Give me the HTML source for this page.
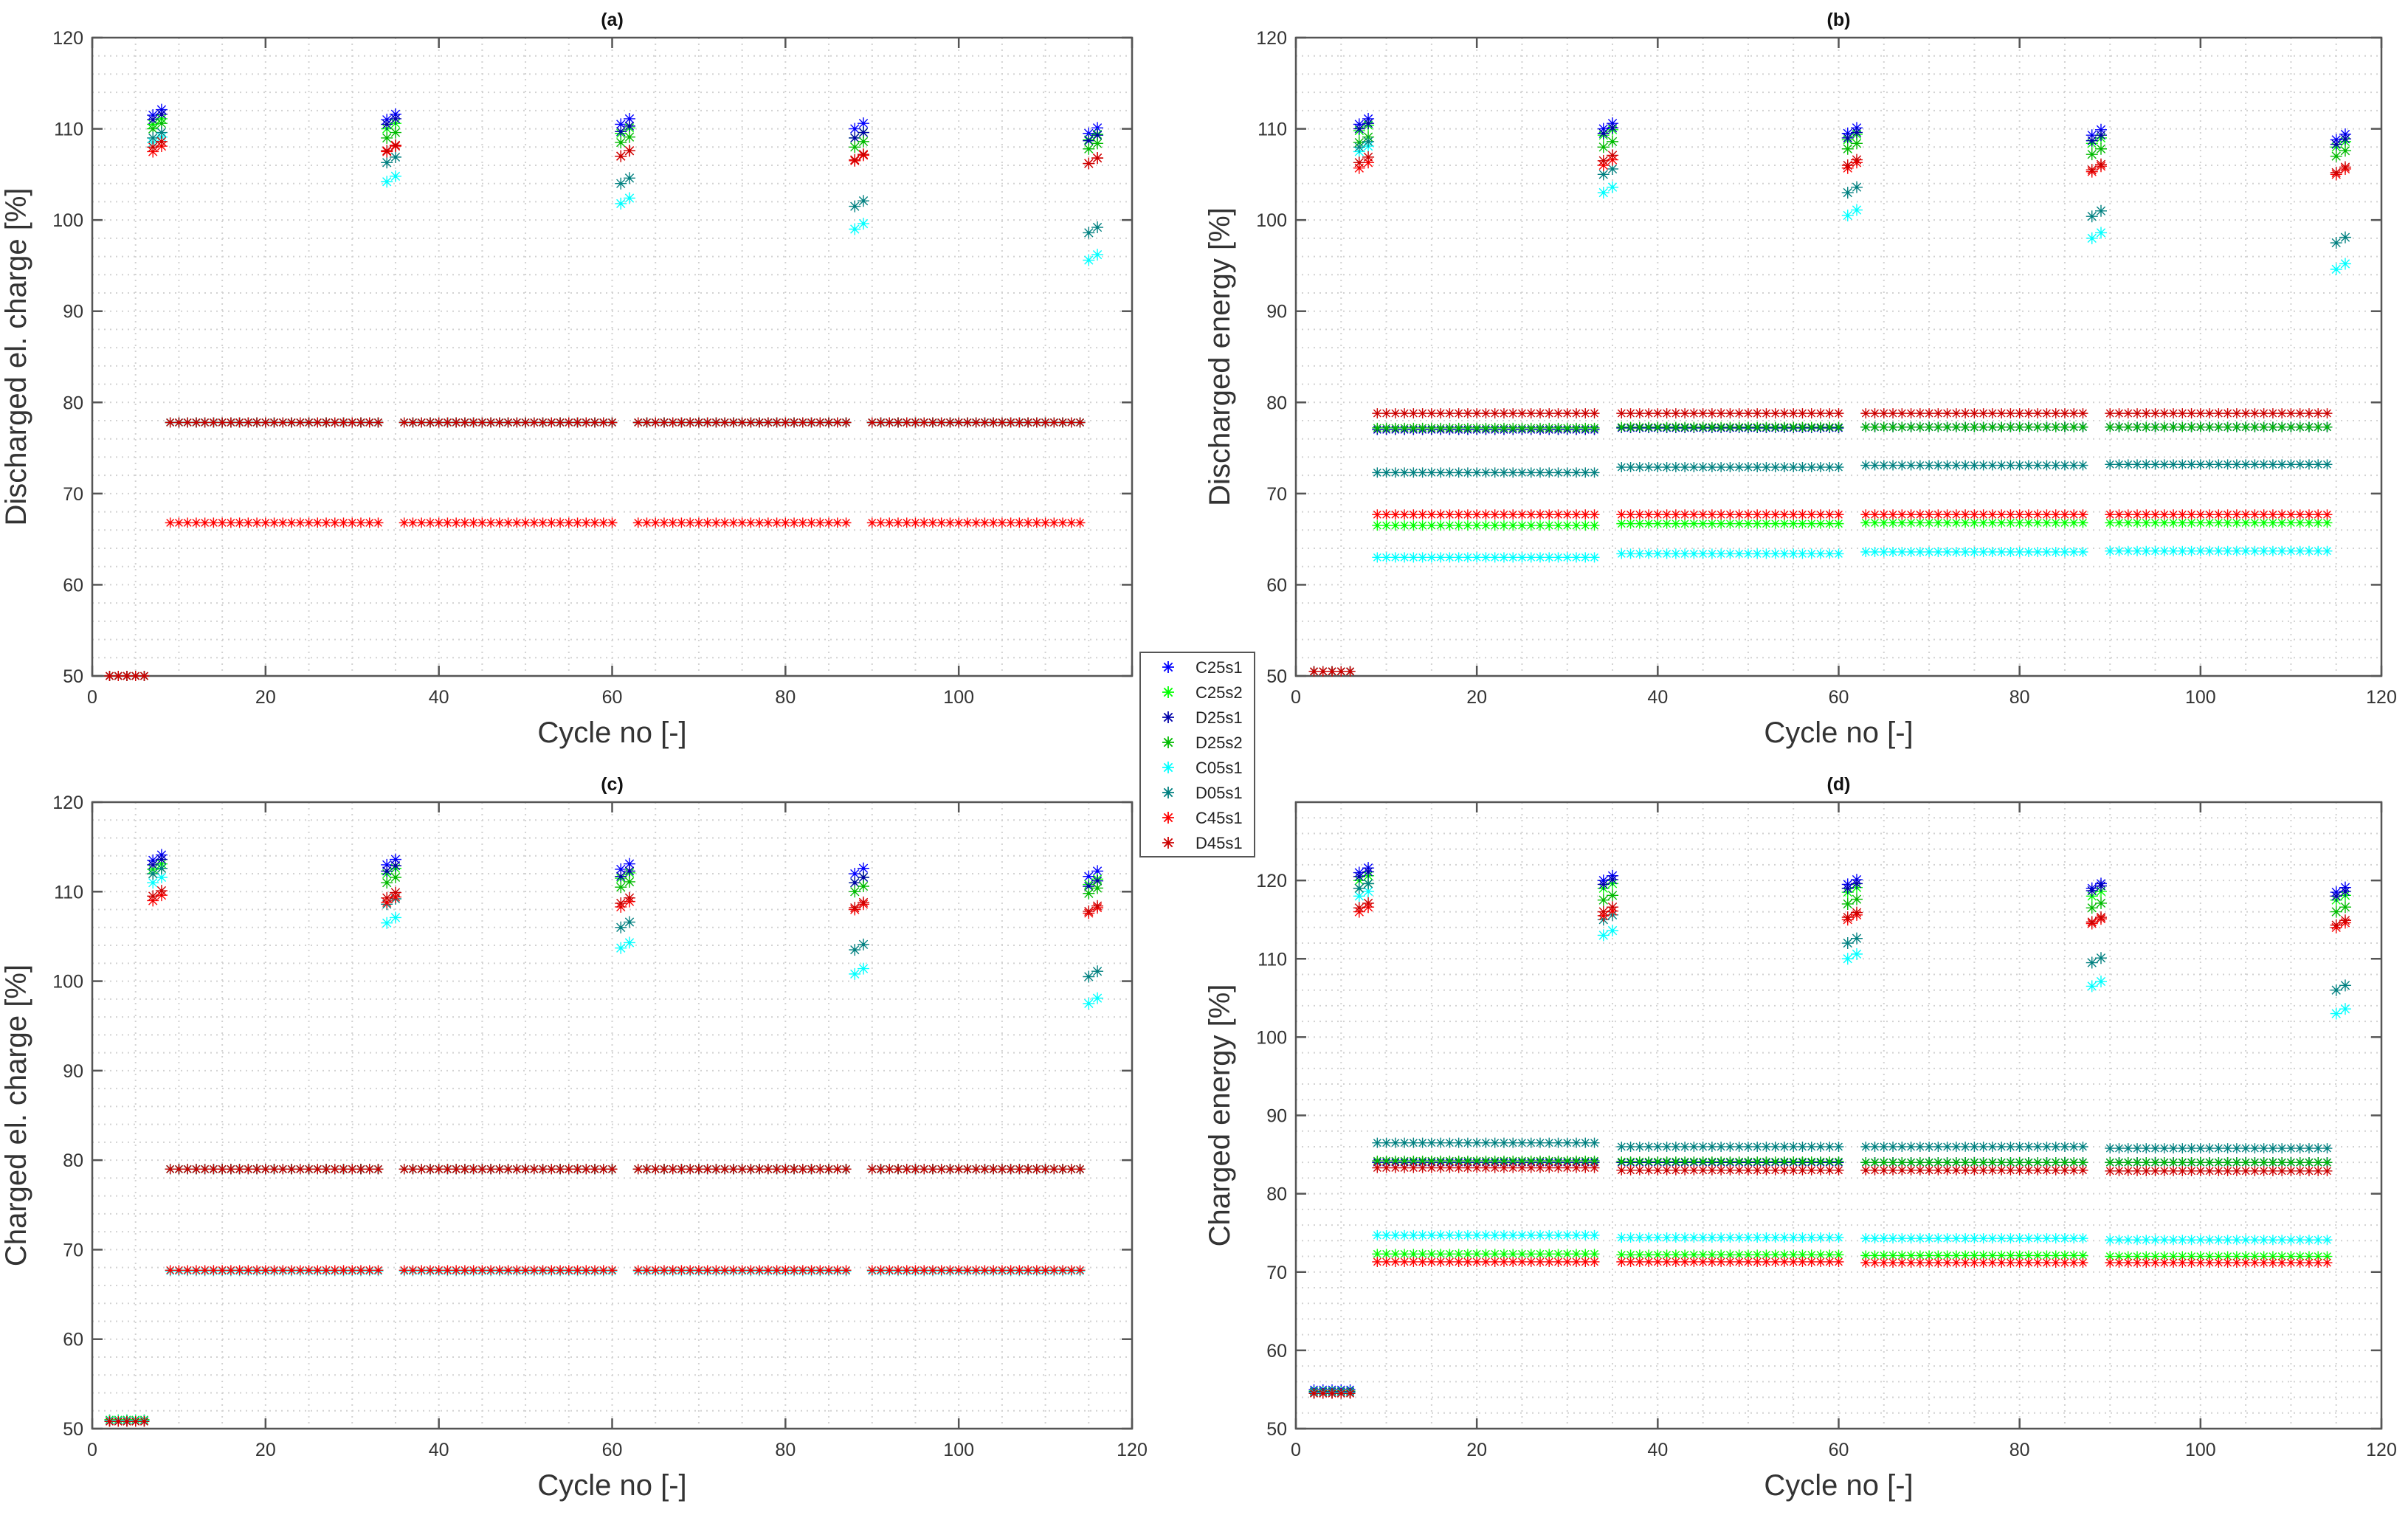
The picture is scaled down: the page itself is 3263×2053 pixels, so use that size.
<!DOCTYPE html>
<html><head><meta charset="utf-8"><style>
html,body{margin:0;padding:0;background:#fff;}
svg{display:block;font-family:"Liberation Sans",Arial,sans-serif;}
</style></head><body>
<svg id="fig" width="3263" height="2053" viewBox="0 0 3263 2053" xmlns="http://www.w3.org/2000/svg"></svg>
<script>
const seriesNames = ["C25s1","C25s2","D25s1","D25s2","C05s1","D05s1","C45s1","D45s1"];
const seriesColors = ["#0000ff","#00ff00","#0000aa","#00bb00","#00ffff","#008080","#ff0000","#cc0000"];
const peakCycles = [7,34,61,88,115];
const plateauStart = [9,36,63,90];
const plateauEnd = [33,60,87,114];
const initCycles = [2,3,4,5,6];
const xTicks = [0,20,40,60,80,100,120];
const yTicks = [50,60,70,80,90,100,110,120];

// Panel (a)
const peaksA = [[111.5,111,110.5,110,109.5],[110.5,110,109.5,109,108.8],[111,110.5,109.7,109,108.7],[110,109,108.5,108,107.8],[108.5,104.2,101.8,99,95.6],[109,106.3,104,101.5,98.6],[107.5,107.5,107,106.5,106.2],[108,107.6,107,106.6,106.2]];
const plateauA = [[77.8,77.8,77.8,77.8],[77.8,77.8,77.8,77.8],[77.8,77.8,77.8,77.8],[77.8,77.8,77.8,77.8],[77.8,77.8,77.8,77.8],[77.8,77.8,77.8,77.8],[66.8,66.8,66.8,66.8],[77.8,77.8,77.8,77.8]];
const initA = [50,50,50,50,50,50,50,50];
// Panel (b)
const peaksB = [[110.5,110,109.5,109.3,108.8],[109.8,109.3,108.8,108.4,108],[110,109.5,109,108.7,108.3],[108.5,108,107.8,107.2,107],[107.5,103,100.5,98,94.6],[108,105,103,100.4,97.5],[105.7,106,105.7,105.3,105],[106.3,106.5,106,105.5,105.2]];
const plateauB = [[77,77.2,77.3,77.3],[66.5,66.7,66.8,66.8],[77,77.2,77.3,77.3],[77.2,77.3,77.3,77.3],[63,63.4,63.6,63.7],[72.3,72.9,73.1,73.2],[67.7,67.7,67.7,67.7],[78.8,78.8,78.8,78.8]];
const initB = [50.5,50.5,50.5,50.5,50.5,50.5,50.5,50.5];
// Panel (c)
const peaksC = [[113.5,113,112.5,112,111.7],[112.5,112,111.5,111,110.8],[113,112.3,111.7,111,110.6],[112,111,110.5,110,109.8],[111,106.5,103.7,100.8,97.5],[112,108.6,106,103.5,100.5],[109,108.8,108.3,108,107.6],[109.5,109.3,108.7,108.2,107.8]];
const plateauC = [[79,79,79,79],[79,79,79,79],[79,79,79,79],[79,79,79,79],[67.6,67.6,67.6,67.6],[79,79,79,79],[67.7,67.7,67.7,67.7],[79,79,79,79]];
const initC = [51,51,50.9,50.9,50.9,50.8,50.8,50.8];
// Panel (d)
const peaksD = [[121,120,119.5,119,118.5],[120,119,118.5,118,117.5],[120.5,119.5,119,118.7,118],[119,117.5,117,116.5,116],[118,113,110,106.5,103],[119,115,112,109.5,106],[116,115.5,115,114.5,114],[116.5,116,115.3,114.7,114.3]];
const plateauD = [[84,84,84,84],[72.3,72.2,72.1,72],[84,84,84,84],[84.2,84.1,84,84],[74.7,74.4,74.3,74.1],[86.5,86,86,85.8],[71.3,71.3,71.2,71.2],[83.3,83,83,82.9]];
const initD = [55,54.8,54.7,54.6,54.6,54.5,54.5,54.5];

const panels = [
 {id:"a",title:"(a)",ylab:"Discharged el. charge [%]",x0:125,x1:1534,y0:51,y1:916,ymax:120,peaks:peaksA,plat:plateauA,init:initA,show120:false},
 {id:"b",title:"(b)",ylab:"Discharged energy [%]",x0:1756,x1:3227,y0:51,y1:916,ymax:120,peaks:peaksB,plat:plateauB,init:initB,show120:true},
 {id:"c",title:"(c)",ylab:"Charged el. charge [%]",x0:125,x1:1534,y0:1087,y1:1936,ymax:120,peaks:peaksC,plat:plateauC,init:initC,show120:true},
 {id:"d",title:"(d)",ylab:"Charged energy [%]",x0:1756,x1:3227,y0:1087,y1:1936,ymax:130,peaks:peaksD,plat:plateauD,init:initD,show120:true}
];
const NS="http://www.w3.org/2000/svg";
const svg=document.getElementById("fig");
function mk(tag,attrs,parent){const e=document.createElementNS(NS,tag);for(const k in attrs)e.setAttribute(k,attrs[k]);(parent||svg).appendChild(e);return e;}
function star(x,y,r){const d=r*0.707;return `M${x-r},${y}H${x+r}M${x},${y-r}V${y+r}M${x-d},${y-d}L${x+d},${y+d}M${x-d},${y+d}L${x+d},${y-d}`;}

panels.forEach(p=>{
 const g=mk("g",{});
 
 
 const sx=v=>p.x0+(v-0)/(120-0)*(p.x1-p.x0);
 const sy=v=>p.y1-(v-50)/(p.ymax-50)*(p.y1-p.y0);
 const grid=mk("g",{stroke:"#d2d2d2","stroke-width":2,"stroke-dasharray":"2 6"},g);
 
 
 for(let v=5;v<120;v+=5) mk("line",{x1:sx(v),x2:sx(v),y1:p.y0,y2:p.y1},grid);
 for(let v=52;v<p.ymax;v+=2) mk("line",{x1:p.x0,x2:p.x1,y1:sy(v),y2:sy(v)},grid);
 const box=mk("rect",{x:p.x0,y:p.y0,width:p.x1-p.x0,height:p.y1-p.y0,fill:"none",stroke:"#555","stroke-width":2.5},g);
 
 
 const ticks=mk("g",{stroke:"#555","stroke-width":2.5},g);
 xTicks.forEach(v=>{mk("line",{x1:sx(v),x2:sx(v),y1:p.y1,y2:p.y1-14},ticks);mk("line",{x1:sx(v),x2:sx(v),y1:p.y0,y2:p.y0+14},ticks);
  if(v===120&&!p.show120)return;
  const t=mk("text",{x:sx(v),y:p.y1+37,"font-size":25,fill:"#333","text-anchor":"middle"},g);t.textContent=v;
  
  });
 yTicks.forEach(v=>{mk("line",{x1:p.x0,x2:p.x0+14,y1:sy(v),y2:sy(v)},ticks);mk("line",{x1:p.x1,x2:p.x1-14,y1:sy(v),y2:sy(v)},ticks);
  const t=mk("text",{x:p.x0-12,y:sy(v)+9,"font-size":25,fill:"#333","text-anchor":"end"},g);t.textContent=v;
  
  });
 const tt=mk("text",{x:(p.x0+p.x1)/2,y:p.y0-16,"font-size":25,"font-weight":"bold",fill:"#111","text-anchor":"middle"},g);tt.textContent=p.title;
 
 
 const xl=mk("text",{x:(p.x0+p.x1)/2,y:p.y1+90,"font-size":40,fill:"#333","text-anchor":"middle"},g);xl.textContent="Cycle no [-]";
 
 
 const yx=p.x0-90,yy=(p.y0+p.y1)/2;
 const yl=mk("text",{x:yx,y:yy,"font-size":40,fill:"#333","text-anchor":"middle",transform:`rotate(-90 ${yx} ${yy})`},g);yl.textContent=p.ylab;
 
 
 seriesNames.forEach((nm,si)=>{
  let d="";
  initCycles.forEach(c=>{d+=star(sx(c),sy(p.init[si]),7);});
  peakCycles.forEach((c,k)=>{d+=star(sx(c),sy(p.peaks[si][k]),8);d+=star(sx(c+1),sy(p.peaks[si][k]+0.6),8);});
  plateauStart.forEach((s,k)=>{for(let c=s;c<=plateauEnd[k];c++)d+=star(sx(c),sy(p.plat[si][k]),7);});
  const path=mk("path",{d:d,stroke:seriesColors[si],"stroke-width":1.4,fill:"none"},g);
  
  
 });
});
const lg=mk("g",{});


mk("rect",{x:1545,y:884,width:155,height:277,fill:"#fff",stroke:"#555","stroke-width":2},lg);
seriesNames.forEach((nm,i)=>{
 const y=904+i*34;
 const e=mk("g",{},lg);
 
 
 mk("path",{d:star(1583,y,8),stroke:seriesColors[i],"stroke-width":1.8,fill:"none"},e);
 const t=mk("text",{x:1620,y:y+8,"font-size":22,fill:"#222"},e);t.textContent=nm;
});
</script>
</body></html>
